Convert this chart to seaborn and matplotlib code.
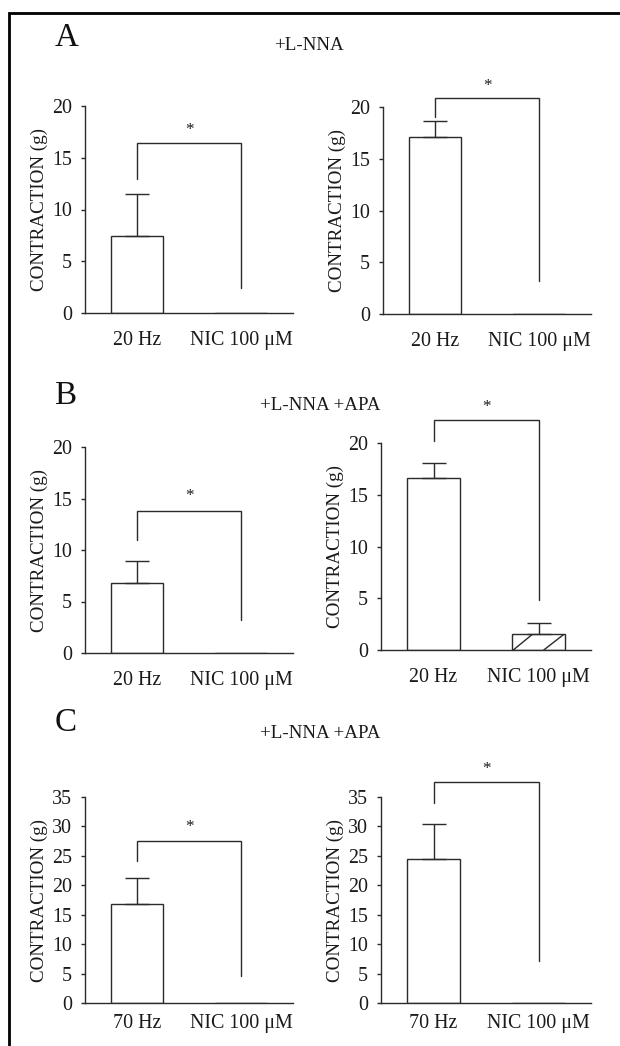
import numpy as np
import pandas as pd
import matplotlib
matplotlib.use("Agg")
import matplotlib.pyplot as plt
from matplotlib.lines import Line2D
import seaborn as sns

# ---- data -------------------------------------------------------------
panel_letters = ["A", "B", "C"]
panel_titles = ["+L-NNA", "+L-NNA +APA", "+L-NNA +APA"]
stim_labels = ["20 Hz", "20 Hz", "70 Hz"]
nic_label = "NIC 100 \u03bcM"

# contraction (g) for [stimulation, nicotine], left and right columns
left_means = [[7.4, 0.0], [6.8, 0.0], [16.8, 0.0]]
left_errs = [[4.1, 0.0], [2.1, 0.0], [4.5, 0.0]]
right_means = [[17.1, 0.0], [16.6, 1.5], [24.4, 0.0]]
right_errs = [[1.5, 0.0], [1.5, 1.1], [6.0, 0.0]]

y_max = [20, 20, 35]
y_step = 5

# significance brackets: (top, left leg end, right leg end, star height)
left_brackets = [(16.4, 12.9, 2.4, 17.7), (13.8, 11.0, 3.2, 15.2), (27.5, 24.1, 4.6, 29.9)]
right_brackets = [(20.9, 19.0, 3.2, 22.0), (22.2, 20.2, 4.8, 23.5), (37.5, 34.0, 7.2, 39.8)]

# ---- layout -----------------------------------------------------------
W, H, DPI = 620, 1046, 200
PT = 72.0 / DPI  # pixels -> points


def px(v):
    return v * PT


sns.set_style("white")
plt.rcParams["font.family"] = ["Liberation Serif", "DejaVu Serif"]

INK = "#2b2b2b"
TXT = "#1a1a1a"
LW = px(1.4)

fig = plt.figure(figsize=(W / DPI, H / DPI), dpi=DPI)
fig.patch.set_facecolor("white")

# axes boxes in pixels: (left, top, right, bottom)
left_boxes = [(85, 106, 293, 313), (85, 447, 293, 653), (85, 797, 293, 1003)]
right_boxes = [(383, 107, 591, 314), (381, 443, 591, 650), (381, 797, 591, 1003)]
xlabel_pads = [18, 18, 11]


def make_axes(box):
    l, t, r, b = box
    return fig.add_axes([l / W, 1 - b / H, (r - l) / W, (b - t) / H])


def hatch_bar(ax, bar):
    """Two diagonal strokes across a bar, clipped to its outline."""
    x0, w, h = bar.get_x(), bar.get_width(), bar.get_height()
    for a, b in ((0.02, 0.38), (0.60, 0.98)):
        ln = Line2D([x0 + a * w, x0 + b * w], [0, h], color=INK, lw=LW, zorder=bar.get_zorder() + 0.1)
        ax.add_line(ln)
        ln.set_clip_path(bar)


def draw_panel(ax, stim, means, errs, ymax, bracket, xpad, hatch_second=False):
    df = pd.DataFrame({"condition": [stim, nic_label], "value": means})
    sns.barplot(data=df, x="condition", y="value", ax=ax, order=[stim, nic_label],
                color="white", saturation=1, edgecolor=INK, linewidth=LW,
                errorbar=None, width=0.5)
    if hatch_second:
        hatch_bar(ax, ax.patches[1])
    xs = [i for i, e in enumerate(errs) if e > 0]
    ax.errorbar(xs, [means[i] for i in xs], yerr=[[0] * len(xs), [errs[i] for i in xs]],
                fmt="none", ecolor=INK, elinewidth=LW, capsize=px(12), capthick=LW, zorder=3)

    ax.set_xlim(-0.5, 1.5)
    ax.set_ylim(0, ymax)
    ax.set_yticks(np.arange(0, ymax + 1, y_step))
    sns.despine(ax=ax)
    for side in ("left", "bottom"):
        ax.spines[side].set_color(INK)
        ax.spines[side].set_linewidth(LW)
    ax.tick_params(axis="y", direction="out", length=px(4), width=LW, color=INK,
                   labelsize=px(20), labelcolor=TXT, pad=px(9), left=True)
    ax.tick_params(axis="x", length=0, labelsize=px(20), labelcolor=TXT, pad=px(xpad))
    ax.set_xlabel("")
    ax.set_ylabel("CONTRACTION (g)", fontsize=px(19), color=TXT, labelpad=px(4))
    ax.set_facecolor("white")

    top, lb, rb, star = bracket
    ax.add_line(Line2D([0, 0, 1, 1], [lb, top, top, rb], color=INK, lw=LW,
                       clip_on=False, solid_joinstyle="miter"))
    ax.text(0.5, star, "*", ha="center", va="center", fontsize=px(17), color=TXT,
            clip_on=False)


for i in range(3):
    axl = make_axes(left_boxes[i])
    draw_panel(axl, stim_labels[i], left_means[i], left_errs[i], y_max[i], left_brackets[i],
               xlabel_pads[i])
    axr = make_axes(right_boxes[i])
    draw_panel(axr, stim_labels[i], right_means[i], right_errs[i], y_max[i], right_brackets[i],
               xlabel_pads[i], hatch_second=(right_means[i][1] > 0))

# panel letters and condition titles
letter_pos = [(55, 38), (55, 396), (55, 723)]
title_pos = [(309, 45), (320, 405), (320, 733)]
for letter, (lx, ly), title, (tx, ty) in zip(panel_letters, letter_pos, panel_titles, title_pos):
    fig.text(lx / W, 1 - ly / H, letter, ha="left", va="center", fontsize=px(33), color="#111111")
    fig.text(tx / W, 1 - ty / H, title, ha="center", va="center", fontsize=px(19), color=TXT)

# frame along the top and left edges
fig.add_artist(Line2D([8.5 / W, 8.5 / W, 1.0], [0.0, 1 - 12.5 / H, 1 - 12.5 / H],
                      transform=fig.transFigure, color="black", lw=px(2.8),
                      solid_joinstyle="miter"))

fig.savefig("out.png", dpi=DPI, facecolor="white")
